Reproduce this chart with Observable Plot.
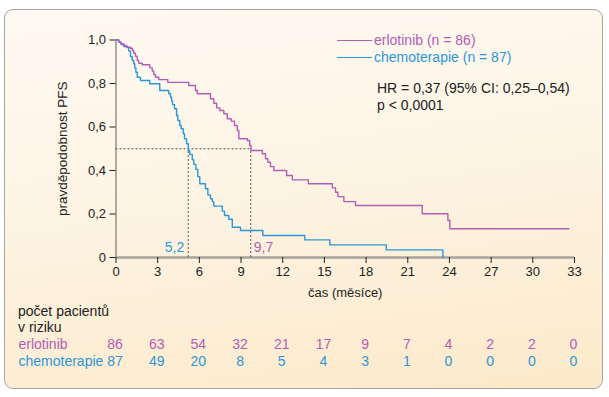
<!DOCTYPE html>
<html><head><meta charset="utf-8">
<script src="https://cdn.jsdelivr.net/npm/d3@7"></script>
<script src="https://cdn.jsdelivr.net/npm/@observablehq/plot@0.6"></script>
<style>
body{margin:0;background:#fff;font-family:"Liberation Sans",Arial,sans-serif;}
#wrap{position:relative;width:609px;height:397px;overflow:hidden}
#frame{position:absolute;left:4px;top:9px;width:597px;height:378px;border:1px solid #a8a49d;border-radius:9px;background:linear-gradient(172deg,#fef9f2 0%,#fdf4e4 45%,#fce9c9 100%);}
.abs{position:absolute;white-space:nowrap}
#plot,#table{position:absolute;left:0}
#plot{top:0}
#table{top:330px}
.leg{position:absolute;font-size:14px;line-height:16px;white-space:nowrap}
.sw{position:absolute;height:0}
</style></head>
<body>
<div id="wrap">
  <div id="frame"></div>
  <div id="plot"></div>
  <div id="table"></div>
  <div id="legend"></div>
  <div class="abs" id="riskTitle" style="left:18px;top:304px;font-size:14px;line-height:15.5px;color:#222"></div>
</div>
<script>
// ---- data ----
const xTicks = [0, 3, 6, 9, 12, 15, 18, 21, 24, 27, 30, 33];
const yTicks = [0, 0.2, 0.4, 0.6, 0.8, 1.0];
const seriesNames = ["erlotinib", "chemoterapie"];
const seriesN = [86, 87];
const seriesColors = ["#b35db6", "#2b97da"];

const erlotinibTime = [0, 0.20, 0.37, 0.56, 0.76, 1.04, 1.17, 1.28, 1.40, 1.53, 1.64, 1.89, 2.43, 2.61, 2.72, 2.84, 3.08, 3.73, 5.24, 5.72, 5.85, 6.80, 7.04, 7.24, 7.47, 7.76, 8.01, 8.29, 8.53, 8.73, 8.84, 9.45, 9.62, 9.72, 10.53, 10.76, 10.93, 11.12, 11.36, 12.28, 12.69, 13.84, 15.57, 15.80, 15.97, 16.40, 17.24, 22.04, 23.89, 24.03, 32.6];
const erlotinibSurv = [1.0, 0.990, 0.983, 0.975, 0.967, 0.962, 0.952, 0.939, 0.925, 0.906, 0.893, 0.886, 0.872, 0.857, 0.841, 0.829, 0.818, 0.805, 0.791, 0.768, 0.753, 0.730, 0.709, 0.688, 0.676, 0.661, 0.638, 0.627, 0.607, 0.584, 0.546, 0.538, 0.515, 0.492, 0.477, 0.454, 0.438, 0.418, 0.400, 0.377, 0.357, 0.339, 0.320, 0.300, 0.280, 0.257, 0.239, 0.201, 0.170, 0.132, 0.132];

const chemoTime = [0, 0.20, 0.37, 0.56, 0.85, 0.92, 1.04, 1.17, 1.28, 1.35, 1.43, 1.53, 1.76, 2.43, 3.15, 3.80, 3.92, 4.00, 4.07, 4.21, 4.36, 4.45, 4.59, 4.69, 4.84, 4.93, 5.08, 5.20, 5.31, 5.49, 5.60, 5.75, 5.89, 6.03, 6.44, 6.61, 6.80, 6.93, 7.04, 7.65, 7.81, 8.12, 8.37, 8.96, 10.57, 13.59, 15.39, 19.45, 23.53];
const chemoSurv = [1.0, 0.990, 0.979, 0.970, 0.964, 0.949, 0.924, 0.906, 0.891, 0.872, 0.852, 0.829, 0.814, 0.799, 0.768, 0.753, 0.737, 0.719, 0.703, 0.684, 0.653, 0.630, 0.607, 0.592, 0.569, 0.546, 0.523, 0.492, 0.474, 0.449, 0.428, 0.405, 0.372, 0.339, 0.316, 0.288, 0.270, 0.257, 0.236, 0.213, 0.193, 0.176, 0.139, 0.124, 0.101, 0.081, 0.058, 0.035, 0.0];

const medianTimes = [5.2, 9.7];
const medianLabels = ["5,2", "9,7"];
const medianLevel = 0.5;

const riskErlotinib = [86, 63, 54, 32, 21, 17, 9, 7, 4, 2, 2, 0];
const riskChemo = [87, 49, 20, 8, 5, 4, 3, 1, 0, 0, 0, 0];

const xLabel = "čas (měsíce)";
const yLabel = "pravděpodobnost PFS";
const statsLines = ["HR = 0,37 (95% CI: 0,25–0,54)", "p < 0,0001"];
const riskTitle = ["počet pacientů", "v riziku"];

// ---- build ----
const font = '"Liberation Sans", Arial, sans-serif';
const fmtY = d => d === 0 ? "0" : d.toFixed(1).replace(".", ",");
const erl = erlotinibTime.map((t, i) => ({t, s: erlotinibSurv[i]}));
const che = chemoTime.map((t, i) => ({t, s: chemoSurv[i]}));
const medChemo = [{t: medianTimes[0], label: medianLabels[0]}];
const medErl = [{t: medianTimes[1], label: medianLabels[1]}];

const ML = 115.5, MR = 35;

const plot = Plot.plot({
  width: 609, height: 300,
  marginLeft: ML, marginRight: MR, marginTop: 39.5, marginBottom: 43,
  style: {background: "transparent", fontFamily: font, fontSize: "13px", color: "#222", overflow: "visible"},
  x: {domain: [0, 33]},
  y: {domain: [0, 1]},
  marks: [
    Plot.ruleY([0], {stroke: "#a7a29a", strokeWidth: 2.6}),
    Plot.ruleX([0], {stroke: "#858079", strokeWidth: 1.3}),
    Plot.axisX({ticks: xTicks, tickSize: 6, tickPadding: 3, label: null, stroke: "#222", fill: "#222", fontSize: 13}),
    Plot.axisY({ticks: yTicks, tickSize: 6, tickPadding: 4, tickFormat: fmtY, label: null, stroke: "#222", fill: "#222", fontSize: 13}),
    Plot.ruleY([medianLevel], {x1: 0, x2: medianTimes[1], stroke: "#555", strokeDasharray: "2,2", strokeWidth: 1}),
    Plot.ruleX(medianTimes, {y1: 0, y2: medianLevel, stroke: "#555", strokeDasharray: "2,2", strokeWidth: 1}),
    Plot.line(che, {x: "t", y: "s", curve: "step-after", stroke: seriesColors[1], strokeWidth: 1.4}),
    Plot.line(erl, {x: "t", y: "s", curve: "step-after", stroke: seriesColors[0], strokeWidth: 1.4}),
    Plot.text(medChemo, {x: "t", y: () => 0.048, text: "label", fill: seriesColors[1], textAnchor: "end", dx: -4, fontSize: 14}),
    Plot.text(medErl, {x: "t", y: () => 0.048, text: "label", fill: seriesColors[0], textAnchor: "start", dx: 3, fontSize: 14}),
    Plot.text([xLabel], {frameAnchor: "bottom", dy: 39, fontSize: 13, fill: "#222"}),
    Plot.text([yLabel], {frameAnchor: "left", textAnchor: "middle", dx: -53.5, rotate: -90, fontSize: 13.5, fill: "#222"})
  ]
});
document.getElementById("plot").append(plot);

const rows = [];
seriesNames.forEach((name, si) => {
  const vals = si === 0 ? riskErlotinib : riskChemo;
  xTicks.forEach((t, i) => rows.push({t, n: String(vals[i]), row: name, color: seriesColors[si]}));
});
const rowLabels = seriesNames.map((name, si) => ({t: xTicks[0], row: name, color: seriesColors[si]}));

const table = Plot.plot({
  width: 609, height: 60,
  marginLeft: ML, marginRight: MR, marginTop: 0, marginBottom: 0,
  style: {background: "transparent", fontFamily: font, fontSize: "14px", overflow: "visible"},
  x: {domain: [0, 33], axis: null},
  y: {type: "point", domain: seriesNames, range: [13.5, 30.5], padding: 0, axis: null},
  marks: [
    Plot.text(rows, {x: "t", y: "row", text: "n", fill: "color", fontSize: 14, dx: -1}),
    Plot.text(rowLabels, {x: "t", y: "row", text: "row", fill: "color", textAnchor: "start", dx: -97.5, fontSize: 14})
  ]
});
document.getElementById("table").append(table);

document.getElementById("riskTitle").innerHTML = riskTitle.join("<br>");

// legend + stats
const leg = document.getElementById("legend");
seriesNames.forEach((name, i) => {
  const y = 40 + i * 16.5;
  const sw = document.createElement("div");
  sw.className = "sw";
  sw.style.cssText = `left:337px;top:${y}px;width:35px;border-top:1.3px solid ${seriesColors[i]}`;
  leg.append(sw);
  const tx = document.createElement("div");
  tx.className = "leg";
  tx.style.cssText = `left:374px;top:${y - 8}px;color:${seriesColors[i]}`;
  tx.textContent = `${name} (n = ${seriesN[i]})`;
  leg.append(tx);
});
statsLines.forEach((s, i) => {
  const tx = document.createElement("div");
  tx.className = "leg";
  tx.style.cssText = `left:377px;top:${80 + i * 16.7}px;color:#222`;
  tx.textContent = s;
  leg.append(tx);
});
</script>
</body></html>
